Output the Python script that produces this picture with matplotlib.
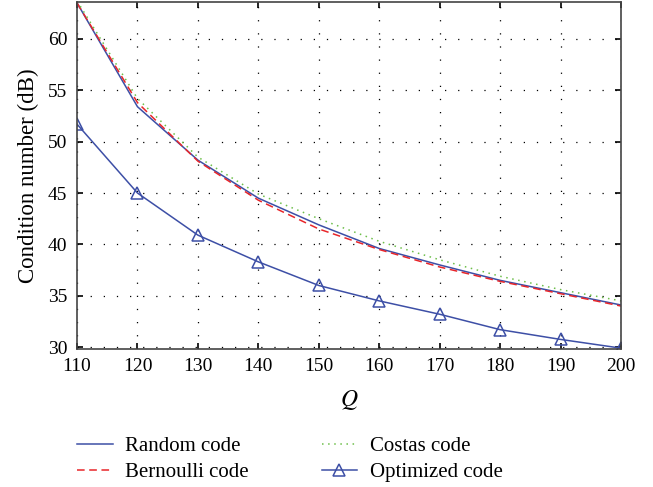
import matplotlib
matplotlib.use("Agg")
import matplotlib.pyplot as plt

Q = [110, 120, 130, 140, 150, 160, 170, 180, 190, 200]
random_code = [63.5, 53.4, 48.2, 44.5, 41.9, 39.6, 38.0, 36.5, 35.3, 34.1]
bernoulli_code = [63.5, 53.8, 48.1, 44.3, 41.5, 39.5, 37.8, 36.4, 35.2, 34.0]
costas_code = [63.7, 54.2, 48.5, 44.9, 42.5, 40.3, 38.5, 36.9, 35.6, 34.5]
optimized_code = [51.7, 45.0, 40.9, 38.3, 36.0, 34.5, 33.2, 31.7, 30.75, 29.9]

plt.rcParams['font.family'] = ['Liberation Serif', 'DejaVu Serif']
plt.rcParams['mathtext.fontset'] = 'stix'

fig = plt.figure(figsize=(6.53, 4.87), dpi=100)
ax = fig.add_axes([0.118, 0.283, 0.833, 0.713])

blue = '#3d4fa6'
ax.plot(Q, random_code, color=blue, lw=1.1, label='Random code')
ax.plot(Q, bernoulli_code, color='#e8262a', lw=1.1, ls=(0, (5, 3)), label='Bernoulli code')
ax.plot(Q, costas_code, color='#6dbf4a', lw=1.1, ls=(0, (1, 3)), label='Costas code')
ax.plot(Q, optimized_code, color=blue, lw=1.1, marker='^', ms=9, mfc='none', mec=blue, mew=1.1,
        label='Optimized code')

ax.set_xlim(110, 200)
ax.set_ylim(29.8, 63.6)
ax.set_xticks(range(110, 201, 10))
ax.set_yticks(range(30, 61, 5))
ax.grid(True, color='black', ls=(0, (1, 9.5)), lw=0.9)
ax.tick_params(direction='in', top=True, right=True, labelsize=14, length=4, width=1.2, pad=6)
ax.tick_params(axis='y', pad=7)
for s in ax.spines.values():
    s.set_linewidth(1.2)
    s.set_color('#444444')
ax.set_xlabel('$Q$', fontsize=17, labelpad=10)
ax.set_ylabel('Condition number (dB)', fontsize=16.5, labelpad=6)

fig.legend(loc='center', bbox_to_anchor=(0.444, 0.0565), ncol=2, frameon=False, fontsize=15,
           handlelength=1.7, columnspacing=3.5, labelspacing=0.3, handletextpad=0.6)

fig.savefig('out.png', dpi=100)
